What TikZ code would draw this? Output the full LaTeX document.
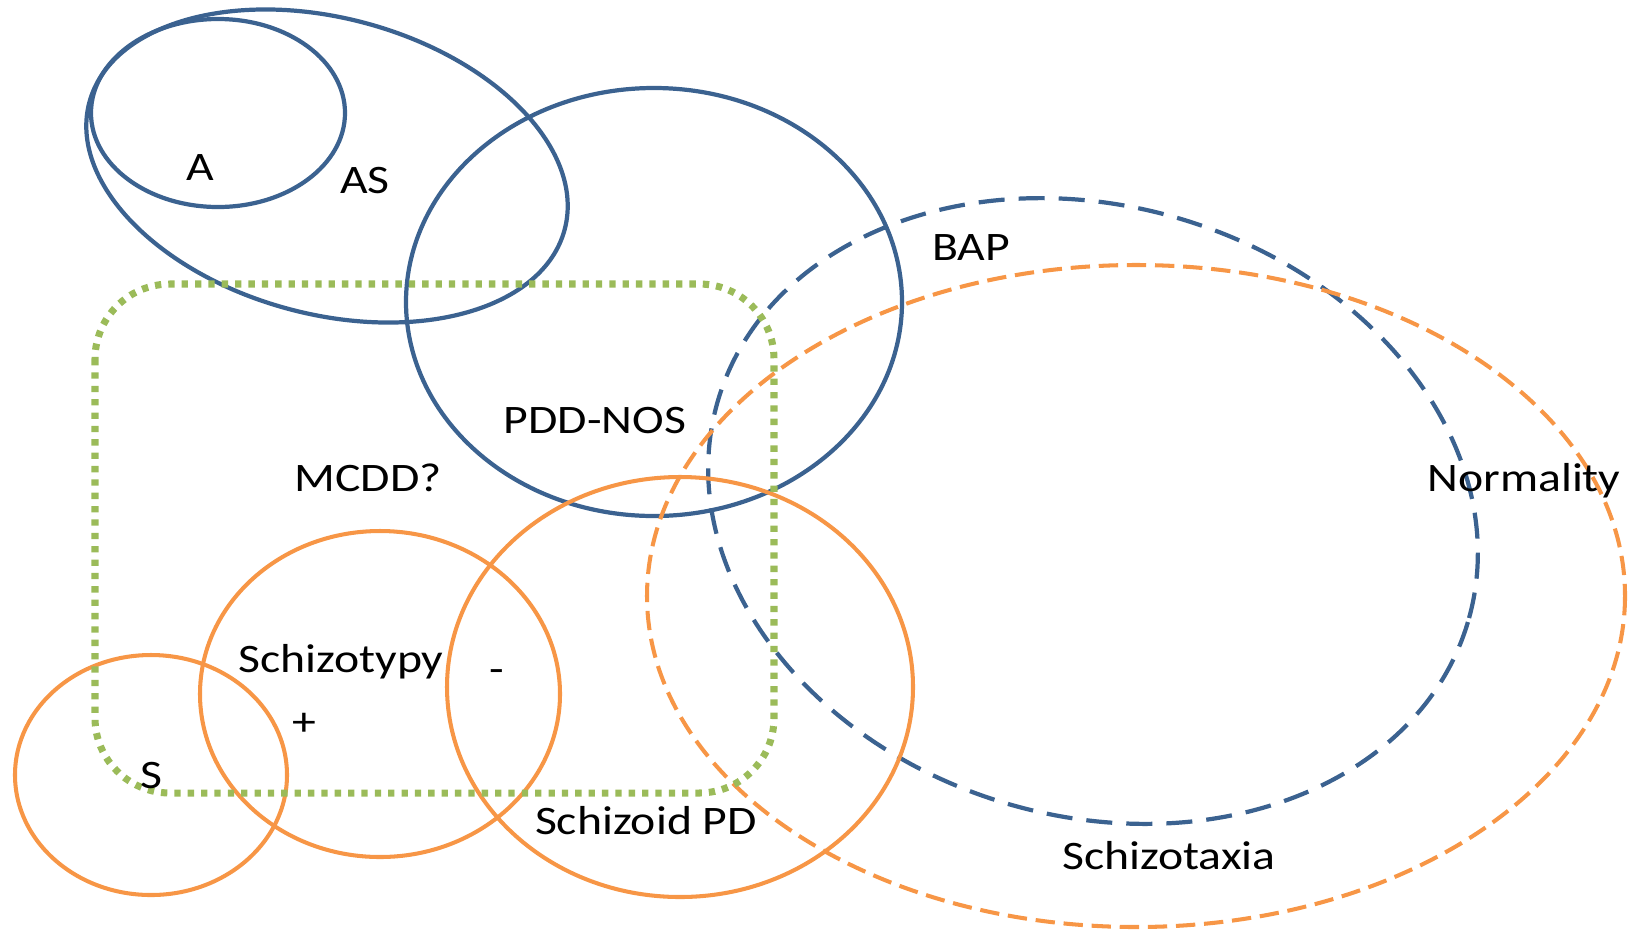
\documentclass[tikz,border=0pt]{standalone}
\usepackage{fontspec}
\setmainfont[FakeStretch=1.18]{Carlito}

\definecolor{asdblue}{HTML}{3B6290}
\definecolor{szorange}{HTML}{F79646}
\definecolor{mcddgreen}{HTML}{9BBB59}

\tikzset{
  asdline/.style={draw=asdblue, line width=1.2pt},
  bapline/.style={draw=asdblue, line width=1.2pt, dash pattern=on 7.4pt off 4pt},
  szline/.style={draw=szorange, line width=1.15pt},
  taxline/.style={draw=szorange, line width=1.15pt, dash pattern=on 5.5pt off 2.5pt},
  mcddline/.style={draw=mcddgreen, line width=2pt, dash pattern=on 1.8pt off 2pt},
  lbl/.style={font={\fontsize{11.5}{14}\selectfont}, black, anchor=base, inner sep=0pt},
}

\begin{document}
\begin{tikzpicture}[x=0.01cm,y=-0.01cm]
        \useasboundingbox (0,0) rectangle (1631,930);

        % autism side
        \draw[asdline] (218,113) ellipse [x radius=127, y radius=94];
        \draw[asdline, rotate around={-15:(327,166)}] (327,166) ellipse [x radius=246, y radius=148];
        \draw[asdline] (654,302) ellipse [x radius=248, y radius=214];
        \draw[bapline, rotate around={-16.5:(1093,511)}] (1093,511) ellipse [x radius=391, y radius=305];

        % schizophrenia side
        \draw[szline] (151,775) ellipse [x radius=136, y radius=120];
        \draw[szline] (380,694) ellipse [x radius=180, y radius=163];
        \draw[szline] (680,687) ellipse [x radius=233, y radius=210];
        \draw[taxline] (1136,596) ellipse [x radius=489, y radius=331];

        \draw[mcddline, rounded corners=0.75cm] (95,284) rectangle (774,793);

        \node[lbl] (a) at (200,180) {A};
        \node[lbl] (as) at (365,193) {AS};
        \node[lbl] (bap) at (971,260) {BAP};
        \node[lbl] (pddnos) at (595,433) {PDD-NOS};
        \node[lbl] (mcdd) at (368,491) {MCDD?};
        \node[lbl] (normality) at (1524,491) {Normality};
        \node[lbl] (schizotypy) at (341,672) {Schizotypy};
        \node[lbl] (minus) at (497,682) {-};
        \node[lbl] (plus) at (304,735) {+};
        \node[lbl] (s) at (151,788) {S};
        \node[lbl] (schizoid) at (646,834) {Schizoid PD};
        \node[lbl] (schizotaxia) at (1169,869) {Schizotaxia};
    \end{tikzpicture}
\end{document}
